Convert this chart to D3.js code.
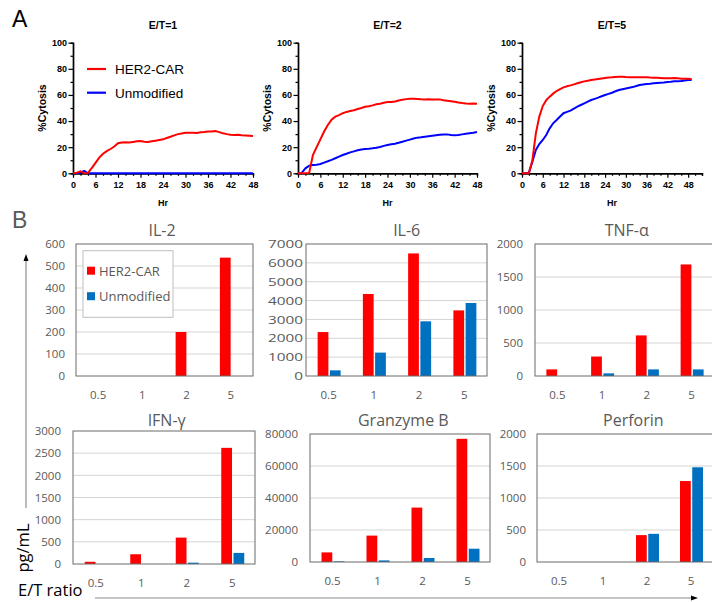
<!DOCTYPE html>
<html>
<head>
<meta charset="utf-8">
<script src="https://cdn.jsdelivr.net/npm/d3@7"></script>
<style>
  body { margin: 0; background: #fff; }
  svg { display: block; }
  .ga text { font-family: "Liberation Sans", Arial, sans-serif; font-weight: bold; fill: #000; }
  .gb text { font-family: "Open Sans", sans-serif; fill: #595959; }
</style>
</head>
<body>
<svg id="fig" width="712" height="602"></svg>
<script>
// ---- panel A: %cytosis, one value per hour (index = hour) ----
var lysisTitles = ["E/T=1", "E/T=2", "E/T=5"];
var seriesNames = ["HER2-CAR", "Unmodified"];

var carET1 = [0,0.5,1.5,0,0.3,4,8,12,15,17,18.6,20.5,23,23.5,23.7,23.5,24,24.5,24.7,24.2,24,24.5,25,25.5,26,27,28,29,30,30.5,31,31,31,30.8,31.4,31.6,32,32,32.4,31.5,30.6,30,29.6,29.4,29.6,29.2,29,28.8,28.6];
var unmodET1 = [0,0,0.5,1.8,0,0,0,0,0,0,0,0,0,0,0,0,0,0,0,0,0,0,0,0,0,0,0,0,0,0,0,0,0,0,0,0,0,0,0,0,0,0,0,0,0,0,0,0,0];

var carET2 = [0,0,0,0.3,14,20,26,32,37,41,43.4,44.6,46,47,47.7,48.3,49.2,50,51,51.4,52,52.8,53.3,54,54.6,54.6,55,55.8,56.4,56.8,57.1,57,56.9,56.7,56.6,56.7,56.6,56.5,56.6,56,55.6,55.2,54.8,54.2,53.8,53.5,53.3,53.4,53.3];
var unmodET2 = [0,0.3,3.8,5.9,6.4,6.6,7.1,8.2,9.2,10.3,11.5,12.8,14,15,16,16.8,17.6,18.2,18.6,18.8,19.1,19.6,20.2,21,21.7,22.2,22.7,23.4,24.2,25,25.8,26.6,27.3,27.6,28,28.4,28.8,29.2,29.6,29.8,29.8,29.4,29.1,29.4,29.8,30.2,30.6,31,31.6];

var carET5 = [0,0,0,10,30.6,43.4,51.5,56,58.7,61,63,64.5,65.8,66.6,67.3,68.1,68.9,69.7,70.4,70.9,71.4,71.8,72.2,72.6,73,73.3,73.5,73.8,74,73.9,73.7,73.6,73.5,73.5,73.5,73.6,73.5,73.3,73.2,73.1,73,72.8,72.7,72.8,73,72.7,72.4,72.4,72.4,72.2];
var unmodET5 = [0,0,0.5,8.9,17.9,22.4,25.5,29.3,34.4,38.3,40.8,43.5,46,47,48,49.5,51,52.3,53.6,54.9,56.1,57,57.9,59,60,60.8,61.7,62.8,63.8,64.4,65,65.5,66,66.8,67.6,68,68.4,68.6,68.9,69.2,69.4,69.6,69.9,70.1,70.4,70.5,70.7,71,71.4,71.4];

// ---- panel B: cytokines (pg/mL) by E/T ratio ----
var etCats = ["0.5", "1", "2", "5"];
var cytoTitles = ["IL-2", "IL-6", "TNF-α", "IFN-γ", "Granzyme B", "Perforin"];
var il2Car = [0, 0, 200, 538],       il2Unmod = [0, 0, 0, 0];
var il6Car = [2330, 4350, 6500, 3480], il6Unmod = [300, 1240, 2900, 3870];
var tnfCar = [100, 295, 615, 1690],   tnfUnmod = [0, 40, 100, 100];
var ifnCar = [50, 220, 595, 2620],    ifnUnmod = [0, 0, 30, 250];
var gzbCar = [6000, 16500, 34000, 77000], gzbUnmod = [400, 1000, 2500, 8300];
var prfCar = [0, 0, 420, 1265],       prfUnmod = [0, 0, 440, 1480];

var il2Ticks = [0, 100, 200, 300, 400, 500, 600];
var il6Ticks = [0, 1000, 2000, 3000, 4000, 5000, 6000, 7000];
var tnfTicks = [0, 500, 1000, 1500, 2000];
var ifnTicks = [0, 500, 1000, 1500, 2000, 2500, 3000];
var gzbTicks = [0, 20000, 40000, 60000, 80000];
var prfTicks = [0, 500, 1000, 1500, 2000];

var RED = "#ff0000", BLUE_A = "#0000ff", BLUE_B = "#0070c0";

var svg = d3.select("#fig");

// ---------- panel A ----------
var ga = svg.append("g").attr("class", "ga");
ga.append("text").attr("x", 12).attr("y", 27).style("font-size", "23px").style("font-weight", "normal").text("A");

var lysisLayout = [
    { x0: 73, x1: 253, xmax: 48, car: carET1, unmod: unmodET1, legend: true },
    { x0: 298, x1: 477, xmax: 48, car: carET2, unmod: unmodET2 },
    { x0: 522, x1: 702, xmax: 52, car: carET5, unmod: unmodET5 }
];

lysisLayout.forEach(function(c, k) {
    var x = d3.scaleLinear().domain([0, c.xmax]).range([c.x0, c.x1]);
    var y = d3.scaleLinear().domain([0, 100]).range([173.3, 42.7]);
    var g = ga.append("g");

    // minor ticks
    g.append("g").attr("transform", "translate(" + c.x0 + ",0)")
        .call(d3.axisLeft(y).tickValues([10, 30, 50, 70, 90]).tickSize(2.5).tickFormat(""));
    var xMinor = d3.range(2, c.xmax + 1, 2).filter(function(v) { return v % 6 !== 0; });
    g.append("g").attr("transform", "translate(0,173.3)")
        .call(d3.axisBottom(x).tickValues(xMinor).tickSize(2.5).tickFormat(""));

    // major axes
    g.append("g").attr("transform", "translate(" + c.x0 + ",0)")
        .call(d3.axisLeft(y).tickValues([0, 20, 40, 60, 80, 100]).tickSize(4.5).tickSizeOuter(0).tickPadding(1.5));
    g.append("g").attr("transform", "translate(0,173.3)")
        .call(d3.axisBottom(x).tickValues(d3.range(0, 49, 6)).tickSize(4.5).tickSizeOuter(0).tickPadding(3.5));
    g.selectAll(".domain").attr("stroke", "#000").attr("stroke-width", 1.4);
    g.selectAll(".tick line").attr("stroke", "#000").attr("stroke-width", 1.2);
    g.selectAll(".tick text").style("font-size", "9px").attr("fill", "#000");

    // lines
    var line = d3.line().x(function(d, i) { return x(i); }).y(function(d) { return y(d); });
    g.append("path").datum(c.unmod).attr("d", line).attr("fill", "none").attr("stroke", BLUE_A).attr("stroke-width", 2);
    g.append("path").datum(c.car).attr("d", line).attr("fill", "none").attr("stroke", RED).attr("stroke-width", 2);

    var cx = (c.x0 + c.x1) / 2;
    g.append("text").attr("x", cx).attr("y", 29).attr("text-anchor", "middle").style("font-size", "10.5px").text(lysisTitles[k]);
    g.append("text").attr("x", cx).attr("y", 206).attr("text-anchor", "middle").style("font-size", "9px").text("Hr");
    g.append("text").attr("transform", "translate(" + (c.x0 - 27) + ",108) rotate(-90)")
        .attr("text-anchor", "middle").style("font-size", "10.5px").text("%Cytosis");

    if (c.legend) {
        var lg = g.append("g");
        [RED, BLUE_A].forEach(function(col, j) {
            var ly = 69 + j * 23.7;
            lg.append("line").attr("x1", 87).attr("x2", 106).attr("y1", ly).attr("y2", ly)
                .attr("stroke", col).attr("stroke-width", 2.2);
            lg.append("text").attr("x", 115).attr("y", ly + 5).style("font-size", "13.5px")
                .style("font-weight", "normal").text(seriesNames[j]);
        });
    }
});

// ---------- panel B ----------
var gb = svg.append("g").attr("class", "gb");
gb.append("text").attr("x", 12).attr("y", 228).style("font-size", "23px").attr("fill", "#000")
    .style("font-family", "'Liberation Sans', Arial, sans-serif").text("B");

var barLayout = [
    { x0: 76,  x1: 253, y0: 244, y1: 376, tx: 162,   ty: 236, car: il2Car, unmod: il2Unmod, ticks: il2Ticks, pad: 11, stretch: 1, legend: true },
    { x0: 306, x1: 487, y0: 244, y1: 376, tx: 406.7, ty: 236, car: il6Car, unmod: il6Unmod, ticks: il6Ticks, pad: 3, stretch: 1.33 },
    { x0: 535, x1: 714, y0: 244, y1: 376, tx: 626.7, ty: 236, car: tnfCar, unmod: tnfUnmod, ticks: tnfTicks, pad: 12, stretch: 1 },
    { x0: 73,  x1: 255, y0: 431, y1: 564, tx: 166.7, ty: 426, car: ifnCar, unmod: ifnUnmod, ticks: ifnTicks, pad: 12, stretch: 1 },
    { x0: 310, x1: 490, y0: 434, y1: 562, tx: 403.3, ty: 426, car: gzbCar, unmod: gzbUnmod, ticks: gzbTicks, pad: 12, stretch: 1 },
    { x0: 537, x1: 713, y0: 434, y1: 562, tx: 633.3, ty: 426, car: prfCar, unmod: prfUnmod, ticks: prfTicks, pad: 11, stretch: 1 }
];

barLayout.forEach(function(c, k) {
    var x = d3.scaleBand().domain(etCats).range([c.x0, c.x1]);
    var sub = d3.scaleBand().domain(seriesNames).range([-11, 12]).paddingInner(0.12);
    var ymax = c.ticks[c.ticks.length - 1];
    var y = d3.scaleLinear().domain([0, ymax]).range([c.y1, c.y0]);
    var g = gb.append("g");

    // gridlines
    g.append("g").selectAll("line").data(c.ticks.slice(1, -1)).enter().append("line")
        .attr("x1", c.x0).attr("x2", c.x1)
        .attr("y1", function(d) { return y(d); }).attr("y2", function(d) { return y(d); })
        .attr("stroke", "#d4d4d4").attr("stroke-width", 1);

    // bars
    var rows = etCats.map(function(cat, i) {
        return [{ cat: cat, s: seriesNames[0], v: c.car[i], col: RED },
                { cat: cat, s: seriesNames[1], v: c.unmod[i], col: BLUE_B }];
    });
    g.append("g").selectAll("rect").data([].concat.apply([], rows).filter(function(d) { return d.v > 0; }))
        .enter().append("rect")
        .attr("x", function(d) { return x(d.cat) + x.bandwidth() / 2 + sub(d.s); })
        .attr("width", sub.bandwidth())
        .attr("y", function(d) { return y(d.v); })
        .attr("height", function(d) { return y(0) - y(d.v); })
        .attr("fill", function(d) { return d.col; });

    // frame
    g.append("rect").attr("x", c.x0).attr("y", c.y0).attr("width", c.x1 - c.x0).attr("height", c.y1 - c.y0)
        .attr("fill", "none").attr("stroke", "#6b6b6b").attr("stroke-width", 1);

    // y tick labels
    var ya = g.append("g").attr("transform", "translate(" + c.x0 + ",0)")
        .call(d3.axisLeft(y).tickValues(c.ticks).tickSize(0).tickPadding(0).tickFormat(d3.format("d")));
    ya.select(".domain").remove();
    ya.selectAll("text").style("font-size", "11.5px").attr("fill", "#595959")
        .attr("x", -c.pad / c.stretch).attr("transform", "scale(" + c.stretch + ",1)");

    // x tick labels
    var xa = g.append("g").attr("transform", "translate(0," + c.y1 + ")")
        .call(d3.axisBottom(x).tickSize(0).tickPadding(15));
    xa.select(".domain").remove();
    xa.selectAll("text").style("font-size", "11.5px").attr("fill", "#595959");

    g.append("text").attr("x", c.tx).attr("y", c.ty).attr("text-anchor", "middle")
        .style("font-size", "16px").text(cytoTitles[k]);

    if (c.legend) {
        var lg = g.append("g");
        lg.append("rect").attr("x", 83).attr("y", 250.7).attr("width", 90).attr("height", 66.6)
            .attr("fill", "#fff").attr("stroke", "#bfbfbf");
        [RED, BLUE_B].forEach(function(col, j) {
            var cy = 270.7 + j * 25.5;
            lg.append("rect").attr("x", 87).attr("y", cy - 4).attr("width", 8).attr("height", 8).attr("fill", col);
            lg.append("text").attr("x", 99).attr("y", cy + 4.8).style("font-size", "13px").text(seriesNames[j]);
        });
    }
});

// shared axis labels with arrows
svg.append("line").attr("x1", 26).attr("x2", 26).attr("y1", 260).attr("y2", 508).attr("stroke", "#8c8c8c").attr("stroke-width", 1.2);
svg.append("path").attr("d", "M26,254 L23.5,261 L28.5,261 Z").attr("fill", "#000");
svg.append("line").attr("x1", 95).attr("x2", 692).attr("y1", 598).attr("y2", 598).attr("stroke", "#8c8c8c").attr("stroke-width", 1.2);
svg.append("path").attr("d", "M698,598 L691,595.5 L691,600.5 Z").attr("fill", "#000");
svg.append("text").attr("transform", "translate(29,548) rotate(-90)").attr("text-anchor", "middle")
    .style("font-family", "'Open Sans', sans-serif").style("font-size", "16.5px").attr("fill", "#000").text("pg/mL");
svg.append("text").attr("x", 18).attr("y", 596).style("font-family", "'Open Sans', sans-serif")
    .style("font-size", "16.5px").attr("fill", "#000").text("E/T ratio");
</script>
</body>
</html>
